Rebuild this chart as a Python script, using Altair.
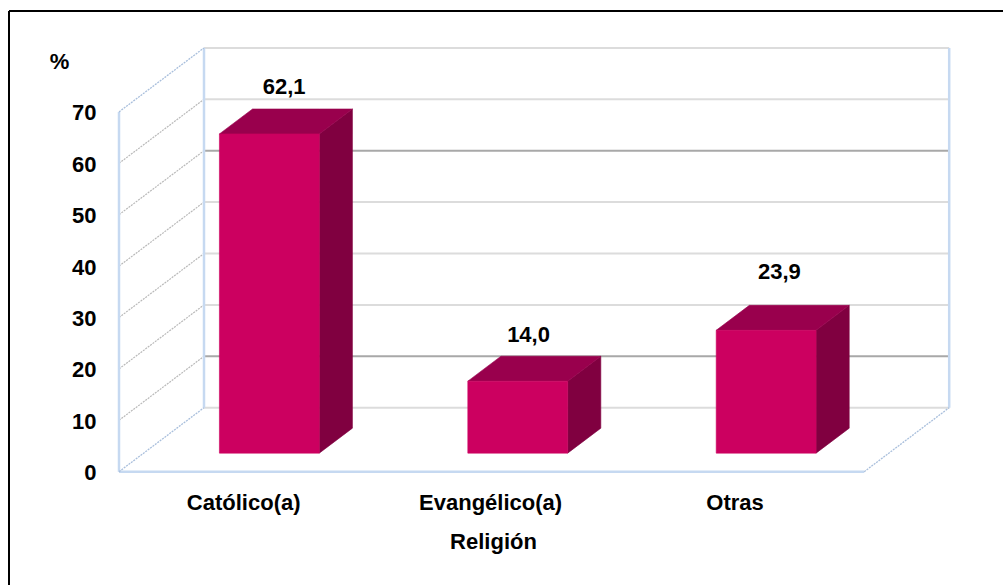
import json

import altair as alt
import pandas as pd

# Chart values
categories = ["Católico(a)", "Evangélico(a)", "Otras"]
percentages = [62.1, 14.0, 23.9]
value_labels = ["62,1", "14,0", "23,9"]
y_ticks = [0, 10, 20, 30, 40, 50, 60, 70]
axis_title = "Religión"
unit_title = "%"

# Page layout, in pixels
PLOT_LEFT, PLOT_TOP = 9, 11
PLOT_W, PLOT_H = 1003 - PLOT_LEFT, 585 - PLOT_TOP
ORIGIN_X, ORIGIN_Y = 119.0, 471.7
SLOT_PX, UNIT_PX = 248.4, 5.14

# Oblique projection: a point at depth 1 sits this far along each axis
WALL_DX = 85 / SLOT_PX
WALL_DV = 64 / UNIT_PX

# Where the boxes stand inside the floor
BAR_START, BAR_WIDTH = 0.305, 0.402
BAR_NEAR, BAR_FAR = 0.29, 0.68

# Manual nudges of the value labels (slots, units) and category labels (slots)
LABEL_SHIFT = [-0.074, -0.09, -0.08]
LABEL_LIFT = [4.2, 4.2, 6.5]
CATEGORY_NUDGE = [0.0, -0.006, -0.022]

FONT = "Liberation Sans"
FONT_SIZE = 22

x_domain = [(PLOT_LEFT - ORIGIN_X) / SLOT_PX, (PLOT_LEFT + PLOT_W - ORIGIN_X) / SLOT_PX]
y_domain = [(ORIGIN_Y - PLOT_TOP - PLOT_H) / UNIT_PX, (ORIGIN_Y - PLOT_TOP) / UNIT_PX]


def project(slot, value, depth):
    return slot + depth * WALL_DX, value + depth * WALL_DV


def segment_rows(name, start, end):
    (x0, y0), (x1, y1) = project(*start), project(*end)
    return [{"seg": name, "x": x0, "y": y0, "n": 0}, {"seg": name, "x": x1, "y": y1, "n": 1}]


# Frame of the plot box
n_slots = len(categories)
grid_back, grid_back_dark, grid_side = [], [], []
for v in y_ticks:
    target = grid_back_dark if v in (10, 50) else grid_back
    target += segment_rows(f"b{v}", (0, v, 1), (n_slots, v, 1))
    if 0 < v < y_ticks[-1]:
        grid_side += segment_rows(f"s{v}", (0, v, 0), (0, v, 1))

wall_solid = (
    segment_rows("front", (0, 0, 0), (0, y_ticks[-1], 0))
    + segment_rows("back", (0, 0, 1), (0, y_ticks[-1], 1))
    + segment_rows("right", (n_slots, 0, 1), (n_slots, y_ticks[-1], 1))
    + segment_rows("floor", (0, 0, 0), (n_slots, 0, 0))
)
wall_dashed = (
    segment_rows("fl", (0, 0, 0), (0, 0, 1))
    + segment_rows("fr", (n_slots, 0, 0), (n_slots, 0, 1))
    + segment_rows("tl", (0, y_ticks[-1], 0), (0, y_ticks[-1], 1))
)

# The three visible faces of each box
front_rows, top_rows, side_rows, label_rows = [], [], [], []
for i, (cat, val, txt) in enumerate(zip(categories, percentages, value_labels)):
    left, right = i + BAR_START, i + BAR_START + BAR_WIDTH

    fx0, ftop = project(left, val, BAR_NEAR)
    fx1, fbase = project(right, 0, BAR_NEAR)
    front_rows.append({"x": fx0, "x2": fx1, "y": fbase, "y2": ftop})

    bx0, btop = project(left, val, BAR_FAR)
    bx1, bbase = project(right, 0, BAR_FAR)
    top_rows += [
        {"bar": cat, "x": fx0, "y": ftop, "y2": ftop},
        {"bar": cat, "x": bx0, "y": btop, "y2": ftop},
        {"bar": cat, "x": fx1, "y": btop, "y2": ftop},
        {"bar": cat, "x": bx1, "y": btop, "y2": btop},
    ]
    side_rows += [
        {"bar": cat, "x": fx1, "y": ftop, "y2": fbase},
        {"bar": cat, "x": bx1, "y": btop, "y2": bbase},
    ]
    label_rows.append(
        {"x": (bx0 + bx1) / 2 + LABEL_SHIFT[i], "y": btop + LABEL_LIFT[i], "text": txt}
    )

x_scale = alt.Scale(domain=x_domain, nice=False, zero=False)
y_scale = alt.Scale(domain=y_domain, nice=False, zero=False)

# Both axes sit inside the plot box, on the front corner of the floor
label_expr = f"{json.dumps(categories, ensure_ascii=False)}[floor(datum.value)]"
x_axis = alt.Axis(
    values=[k + 0.5 + CATEGORY_NUDGE[k] for k in range(n_slots)],
    labelExpr=label_expr,
    orient="bottom",
    offset=ORIGIN_Y - PLOT_TOP - PLOT_H,
    domain=False,
    ticks=False,
    grid=False,
    labelPadding=21,
    labelFont=FONT,
    labelFontSize=FONT_SIZE,
    labelFontWeight="bold",
    labelColor="black",
    labelOverlap=False,
    labelFlush=False,
    title=axis_title,
    titleFont=FONT,
    titleFontSize=FONT_SIZE,
    titleFontWeight="bold",
    titleColor="black",
    titleX=484,
    titleY=70,
    titleAlign="center",
    titleBaseline="middle",
)
y_axis = alt.Axis(
    values=y_ticks,
    orient="left",
    offset=-87,
    domain=False,
    ticks=False,
    grid=False,
    labelPadding=0,
    labelOffset=1,
    labelFont=FONT,
    labelFontSize=FONT_SIZE,
    labelFontWeight="bold",
    labelColor="black",
    labelOverlap=False,
    labelFlush=False,
    labelBaseline="middle",
    title=unit_title,
    titleFont=FONT,
    titleFontSize=FONT_SIZE,
    titleFontWeight="bold",
    titleColor="black",
    titleAngle=0,
    titleX=-37,
    titleY=50,
    titleAlign="center",
    titleBaseline="middle",
)

X = alt.X("x:Q", scale=x_scale, axis=x_axis)
Y = alt.Y("y:Q", scale=y_scale, axis=y_axis, stack=None)


def lines(rows, **mark):
    return (
        alt.Chart(pd.DataFrame(rows))
        .mark_line(**mark)
        .encode(x=X, y=Y, detail="seg:N", order="n:Q")
    )


def faces(rows, color):
    return (
        alt.Chart(pd.DataFrame(rows))
        .mark_area(color=color, stroke=color, strokeWidth=0.6)
        .encode(x=X, y=Y, y2="y2:Q", detail="bar:N")
    )


value_text = (
    alt.Chart(pd.DataFrame(label_rows))
    .mark_text(font=FONT, fontSize=FONT_SIZE, fontWeight="bold", color="black", baseline="middle")
    .encode(x=X, y=Y, text="text:N")
)

fronts = (
    alt.Chart(pd.DataFrame(front_rows))
    .mark_rect(color="#cc0060", stroke="#cc0060", strokeWidth=0.6)
    .encode(x=X, x2="x2:Q", y=alt.Y("y:Q", scale=y_scale, axis=y_axis), y2="y2:Q")
)

frame_top = alt.Chart(pd.DataFrame({"k": [0]})).mark_rule(color="black", strokeWidth=2).encode(
    x=alt.value(0), x2=alt.value(PLOT_W), y=alt.value(0)
)
frame_left = alt.Chart(pd.DataFrame({"k": [0]})).mark_rule(color="black", strokeWidth=2).encode(
    x=alt.value(0), y=alt.value(0), y2=alt.value(PLOT_H)
)

chart = (
    alt.layer(
        frame_top,
        frame_left,
        lines(grid_back, color="#dcdcdc", strokeWidth=2),
        lines(grid_back_dark, color="#a8a8a8", strokeWidth=2),
        lines(grid_side, color="#b9b9b9", strokeWidth=1.2, strokeDash=[2, 1]),
        lines(wall_solid, color="#c6d9f1", strokeWidth=2.5),
        lines(wall_dashed, color="#a9bfdc", strokeWidth=1.3, strokeDash=[2, 1]),
        faces(side_rows, "#800040"),
        faces(top_rows, "#99004d"),
        fronts,
        value_text,
    )
    .properties(
        width=PLOT_W,
        height=PLOT_H,
        padding={"left": PLOT_LEFT, "top": PLOT_TOP, "right": 0, "bottom": 0},
        autosize=alt.AutoSizeParams(type="none"),
        background="white",
    )
    .configure_view(stroke=None)
)

chart.save("out.html", embed_options={"renderer": "svg", "actions": False})
